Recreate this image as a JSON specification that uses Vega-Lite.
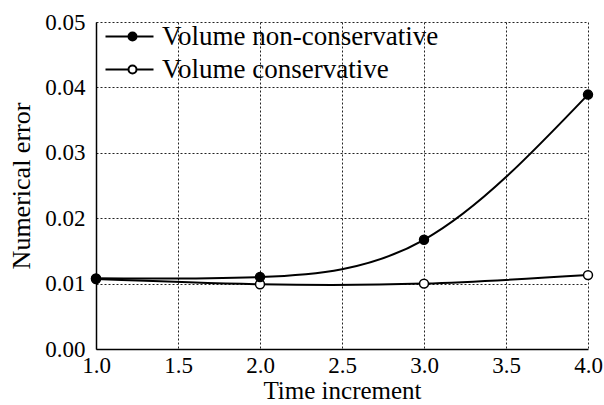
{
  "$schema": "https://vega.github.io/schema/vega-lite/v6.json",
  "width": 492,
  "height": 327,
  "autosize": "none",
  "padding": {"left": 96, "top": 22, "right": 16, "bottom": 56},
  "background": "white",
  "config": {
    "font": "Liberation Serif",
    "view": {"stroke": null},
    "axis": {
      "domainColor": "black",
      "domainWidth": 1.5,
      "grid": true,
      "gridColor": "#222",
      "gridDash": [2, 2],
      "gridWidth": 1,
      "ticks": false,
      "labelFontSize": 23,
      "labelColor": "black",
      "labelFont": "Liberation Serif",
      "titleFontSize": 26,
      "titleFontWeight": "normal",
      "titleColor": "black",
      "titleFont": "Liberation Serif"
    }
  },
  "data": {
    "values": [
      {"t": 1.0, "err": 0.0107, "series": "Volume conservative"},
      {"t": 2.0, "err": 0.0099, "series": "Volume conservative"},
      {"t": 3.0, "err": 0.0100, "series": "Volume conservative"},
      {"t": 4.0, "err": 0.0113, "series": "Volume conservative"},
      {"t": 1.0, "err": 0.0108, "series": "Volume non-conservative"},
      {"t": 2.0, "err": 0.0110, "series": "Volume non-conservative"},
      {"t": 3.0, "err": 0.0167, "series": "Volume non-conservative"},
      {"t": 4.0, "err": 0.0389, "series": "Volume non-conservative"}
    ]
  },
  "encoding": {
    "x": {
      "field": "t",
      "type": "quantitative",
      "scale": {"domain": [1, 4], "nice": false, "zero": false},
      "axis": {"values": [1, 1.5, 2, 2.5, 3, 3.5, 4], "format": ".1f", "title": "Time increment", "labelFlush": false, "labelFont": "Liberation Serif", "labelFontSize": 23, "labelPadding": 5, "titlePadding": 1, "titleFontSize": 25}
    },
    "y": {
      "field": "err",
      "type": "quantitative",
      "scale": {"domain": [0, 0.05], "nice": false},
      "axis": {"values": [0, 0.01, 0.02, 0.03, 0.04, 0.05], "format": ".2f", "title": "Numerical error", "labelFont": "Liberation Serif", "labelFontSize": 23, "labelPadding": 11, "titlePadding": 10}
    }
  },
  "layer": [
    {
      "mark": {"type": "line", "interpolate": "natural", "strokeWidth": 2, "color": "black"},
      "encoding": {"detail": {"field": "series", "type": "nominal"}}
    },
    {
      "mark": {"type": "point", "filled": true, "size": 80, "stroke": "black", "strokeWidth": 1.5, "opacity": 1},
      "encoding": {
        "fill": {
          "field": "series",
          "type": "nominal",
          "scale": {"domain": ["Volume non-conservative", "Volume conservative"], "range": ["black", "white"]},
          "legend": {
            "title": null,
            "orient": "top-left",
            "offset": 1,
            "padding": 0,
            "symbolType": "M-0.5,0L1.8,0M2.6,0L4.3,0M1.8,0A0.4,0.4 0 1 0 2.6,0A0.4,0.4 0 1 0 1.8,0Z",
            "symbolSize": 400,
            "symbolStrokeColor": "black",
            "symbolStrokeWidth": 2,
            "symbolOpacity": 1,
            "labelFontSize": 27,
            "labelFont": "Liberation Serif",
            "labelColor": "black",
            "labelLimit": 400,
            "labelOffset": 38,
            "rowPadding": 5
          }
        }
      }
    }
  ]
}
